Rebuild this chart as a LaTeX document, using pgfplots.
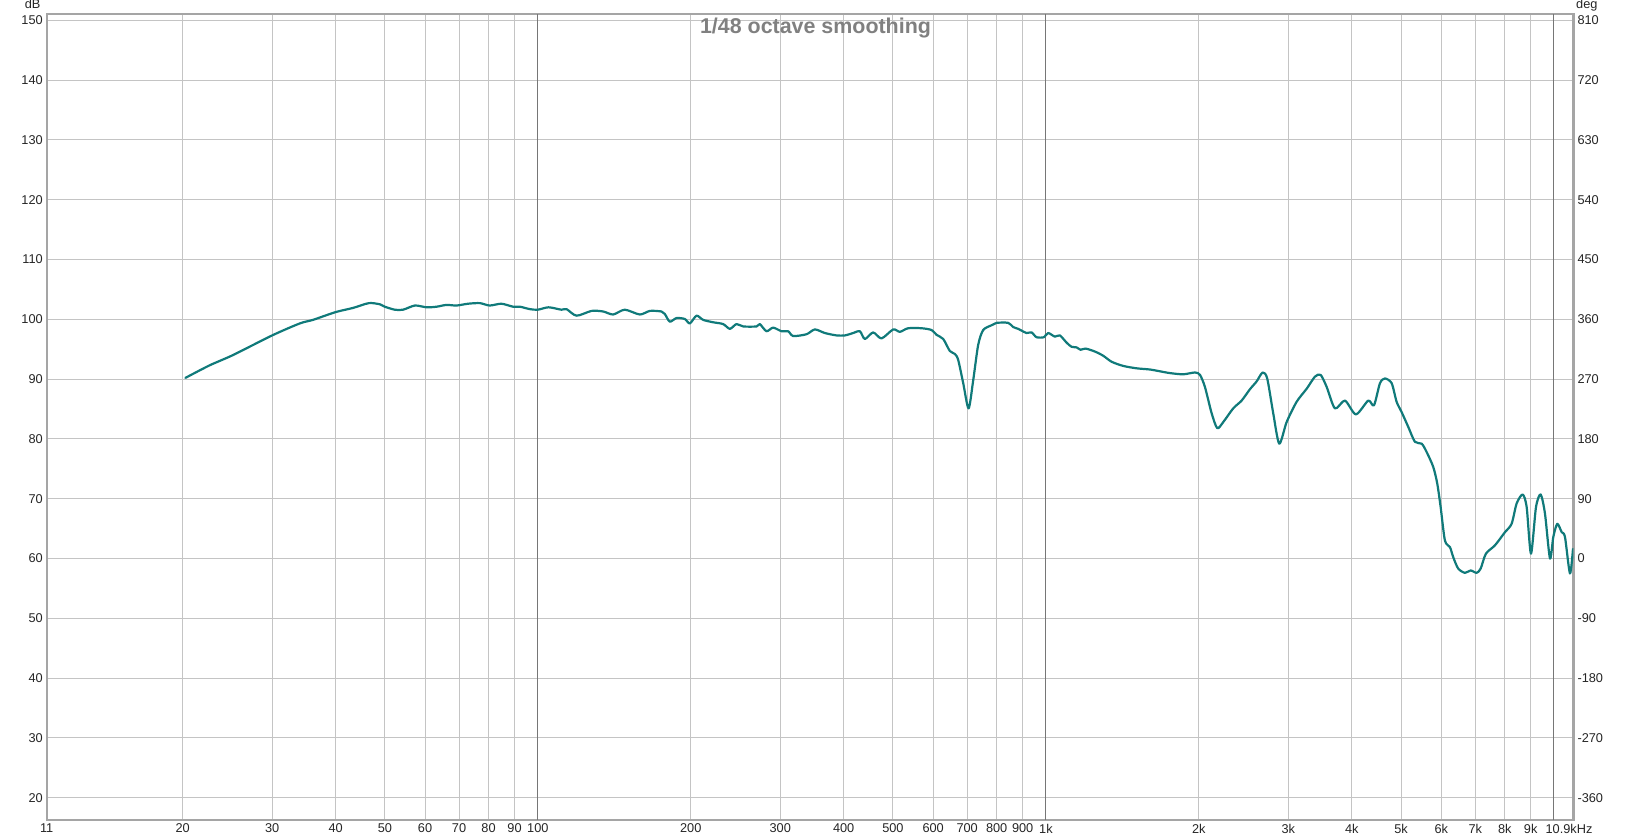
\documentclass[border=0pt]{standalone}
\usepackage{fontspec}
\setmainfont{Liberation Sans}
\usepackage{pgfplots}
\pgfplotsset{compat=1.18}
\definecolor{curve}{RGB}{16,122,122}
\definecolor{gridc}{RGB}{196,196,196}
\definecolor{gridd}{RGB}{118,118,118}
\definecolor{framec}{RGB}{165,165,165}
\definecolor{titlec}{RGB}{128,128,128}

\pgfplotstableread{
f db
20.25 90.2
22.6 92.3
25.1 94.0
30.0 97.3
34.0 99.3
36.1 99.9
40.0 101.2
43.3 101.9
46.5 102.7
48.9 102.5
50.0 102.1
52.3 101.6
54.3 101.6
57.3 102.3
60.4 102.0
63.2 102.1
66.1 102.4
69.2 102.3
72.9 102.6
76.9 102.7
80.4 102.3
84.8 102.6
89.4 102.1
92.2 102.1
96.4 101.7
100 101.6
105 102.0
111.3 101.6
113.9 101.7
119.2 100.6
127.6 101.4
134.5 101.3
140.7 100.8
148.3 101.6
158.8 100.8
166.2 101.4
175.2 101.3
177.8 100.9
181.9 99.6
187.5 100.2
194.7 100.05
199.2 99.3
205.3 100.6
211.6 99.9
221.3 99.5
231.6 99.2
238.8 98.4
246.1 99.2
253.7 98.8
269.5 98.8
273.5 99.2
281.9 98.0
290.5 98.6
301.8 98.0
311.0 98.0
318.2 97.2
338.0 97.5
351.0 98.3
367.3 97.7
387.3 97.3
402.1 97.3
417.6 97.7
430.4 98.0
440.3 96.7
457.1 97.8
474.8 96.8
500.5 98.3
515.9 97.9
535.7 98.5
569.2 98.5
595.7 98.2
609.3 97.4
628 96.7
647.1 94.7
662.1 94.2
672.1 93.2
687.6 89.3
704.5 85.1
719.4 89.8
735.8 95.7
752.7 98.2
781.8 99.0
799.7 99.4
843.0 99.4
862.4 98.7
882.2 98.4
895.7 98.1
916.2 97.7
937.3 97.8
958.5 97.0
991.0 97.0
1010.4 97.7
1041.6 97.1
1065.5 97.3
1098.2 96.1
1123.4 95.4
1149.2 95.3
1170.3 94.9
1197.1 95.1
1249 94.6
1296.8 93.9
1346.9 92.9
1419.8 92.2
1508.4 91.8
1602.3 91.6
1676.6 91.3
1754.6 91.0
1863.6 90.8
1965.3 91.1
2010.4 90.7
2055.8 88.7
2119.3 84.3
2173.8 81.8
2233.6 82.8
2337.3 85.1
2427.8 86.4
2521.2 88.3
2598.4 89.6
2670.1 91.1
2726.7 90.1
2801.8 84.3
2879.6 79.2
2977.5 82.8
3115.6 86.2
3261.3 88.4
3385.2 90.4
3473.4 90.7
3569.3 88.7
3706.7 85.1
3878.8 86.4
4075.5 84.1
4310 86.4
4422.8 85.6
4545 89.3
4648.6 90.1
4793 89.3
4901 86.2
5013 84.5
5167 82.0
5326 79.5
5491 79.2
5616 77.8
5787 75.3
5893 72.5
5984 68.6
6101 63.0
6242 61.9
6336 60.2
6481 58.3
6681 57.6
6855 58.0
7044 57.6
7173 58.3
7347 60.8
7654 62.2
8008 64.4
8254 65.8
8444 69.2
8677 70.7
8836 68.6
9011 60.8
9218 68.6
9415 70.7
9601 67.5
9820 60.0
9970 63.6
10152 65.8
10356 64.4
10512 63.6
10752 57.5
10900 61.6
}\fr

\begin{document}
\begin{tikzpicture}[x=1bp,y=1bp]
\begin{axis}[
  at={(46.7bp,20bp)}, anchor=south west,
  scale only axis, width=1526.8bp, height=806bp,
  xmode=log, xmin=10.8, xmax=10925, ymin=16.27, ymax=151.05,
  xtick={10.8,20,30,40,50,60,70,80,90,100,200,300,400,500,600,700,800,900,1000,2000,3000,4000,5000,6000,7000,8000,9000,10925},
  xticklabels={11,20,30,40,50,60,70,80,90,100,200,300,400,500,600,700,800,900,1k,2k,3k,4k,5k,6k,7k,8k,9k,10.9kHz\kern9bp},
  extra x ticks={100,1000,10000},
  extra x tick labels={},
  extra x tick style={grid=major, major grid style={gridd, line width=1bp}},
  minor xtick={},
  ytick={20,30,...,150},
  grid=major,
  major grid style={gridc, line width=1bp},
  major tick length=0pt,
  tick style={draw=none},
  axis line style={framec, line width=2.2bp},
  /pgf/number format/assume math mode=true,
  ticklabel style={font=\fontsize{12.8}{14}\selectfont, text=black!85},
  xticklabel style={yshift=-0.5bp},
  yticklabel style={xshift=-0.5bp},
  clip=true,
]
\addplot[curve, line width=2.2bp, line join=round, line cap=round, smooth, tension=0.45] table[x=f, y=db] {\fr};
\end{axis}
\begin{axis}[
  at={(46.7bp,20bp)}, anchor=south west,
  scale only axis, width=1526.8bp, height=806bp,
  xmode=log, xmin=10.8, xmax=10925, ymin=-393.6, ymax=819.45,
  xtick=\empty,
  ytick={-360,-270,-180,-90,0,90,180,270,360,450,540,630,720,810},
  yticklabels={-360,-270,-180,-90,0,90,180,270,360,450,540,630,720,810},
  yticklabel pos=right,
  major tick length=0pt,
  tick style={draw=none},
  axis line style={draw=none},
  ticklabel style={font=\fontsize{12.8}{14}\selectfont, text=black!85},
  yticklabel style={xshift=0.5bp},
]
\end{axis}
\node[anchor=base east, inner sep=0pt, font=\fontsize{12.8}{14}\selectfont, text=black!85] at (40.7,831.3) {dB};
\node[anchor=base west, inner sep=0pt, font=\fontsize{12.8}{14}\selectfont, text=black!85] at (1576,831.3) {deg};
\node[anchor=base, inner sep=0pt, font=\fontsize{21.5}{24}\selectfont\bfseries, text=titlec] at (815.5,806) {1/48 octave smoothing};
\pgfresetboundingbox
\path[use as bounding box] (0,1.4) rectangle (1632,840);
\end{tikzpicture}
\end{document}
